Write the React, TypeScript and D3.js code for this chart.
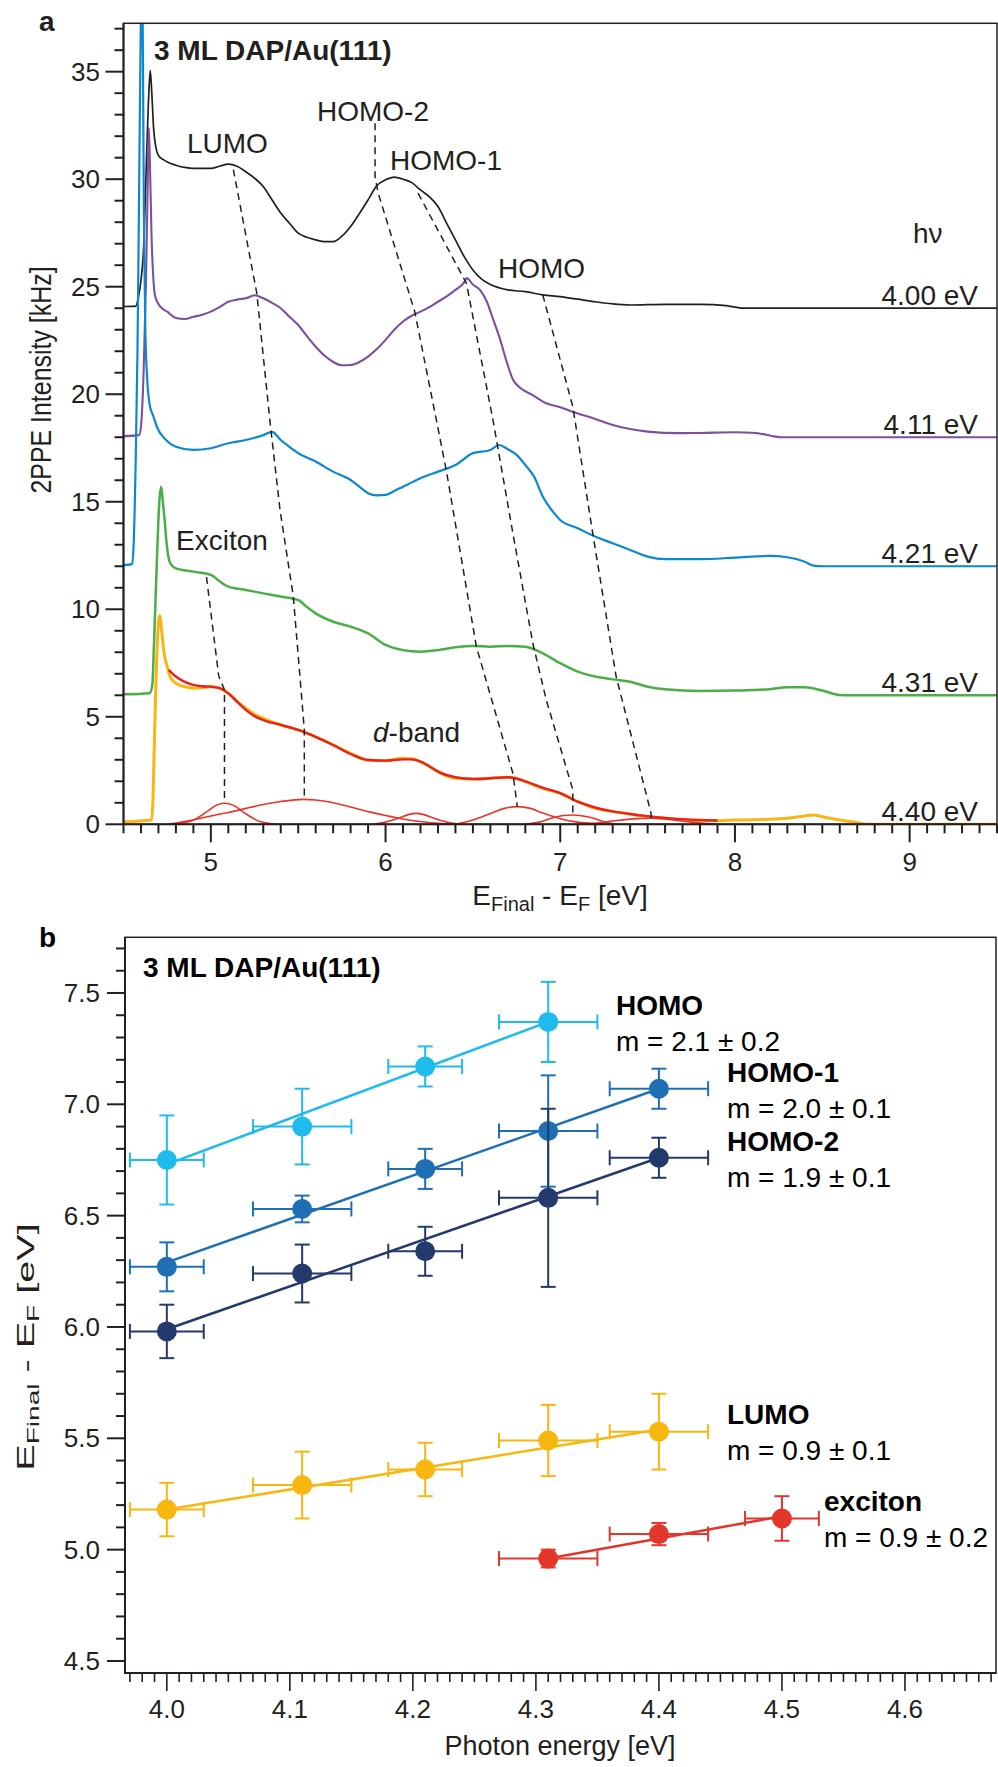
import React from 'react';
import * as d3 from 'd3';

type Pt = [number, number];

const FONT = "'Liberation Sans', Arial, Helvetica, sans-serif";
const INK = '#231f20';

// ---------- panel a : 2PPE spectra, [E_Final - E_F (eV), intensity (kHz) incl. offset] ----------
const spectrum400: Pt[] = [
  [4.5, 24.08], [4.57, 24.1], [4.585, 24.5], [4.6, 25.3], [4.615, 26.8], [4.63, 30.5], [4.645, 34.0],
  [4.653, 35.05], [4.662, 34.0], [4.672, 32.4], [4.685, 31.5], [4.7, 31.1], [4.73, 30.9], [4.8, 30.65],
  [4.85, 30.55], [4.9, 30.5], [4.95, 30.5], [5.0, 30.5], [5.05, 30.6], [5.1, 30.7], [5.15, 30.6],
  [5.2, 30.35], [5.25, 30.05], [5.3, 29.66], [5.35, 29.04], [5.4, 28.43], [5.45, 27.95], [5.5, 27.49],
  [5.55, 27.3], [5.6, 27.18], [5.65, 27.1], [5.7, 27.1], [5.75, 27.35], [5.8, 27.8], [5.85, 28.4],
  [5.9, 29.04], [5.95, 29.7], [6.0, 29.97], [6.05, 30.1], [6.1, 30.0], [6.15, 29.84], [6.2, 29.5],
  [6.25, 29.19], [6.3, 28.73], [6.35, 27.95], [6.4, 27.18], [6.45, 26.4], [6.5, 25.78], [6.55, 25.35],
  [6.6, 25.1], [6.7, 24.85], [6.8, 24.77], [6.9, 24.62], [7.0, 24.54], [7.1, 24.42], [7.2, 24.3],
  [7.3, 24.2], [7.4, 24.15], [7.6, 24.18], [7.8, 24.18], [7.95, 24.12], [8.05, 24.0], [9.5, 24.0],
];
const spectrum411: Pt[] = [
  [4.5, 18.05], [4.59, 18.1], [4.6, 18.5], [4.615, 21], [4.628, 25], [4.638, 29.5], [4.645, 32.4],
  [4.652, 30.5], [4.66, 27.5], [4.67, 25.5], [4.68, 24.6], [4.7, 24.2], [4.72, 24.0], [4.75, 23.84],
  [4.8, 23.55], [4.85, 23.5], [4.9, 23.6], [4.95, 23.7], [5.0, 23.84], [5.05, 24.05], [5.1, 24.3],
  [5.15, 24.4], [5.2, 24.46], [5.25, 24.6], [5.3, 24.46], [5.35, 24.25], [5.4, 24.0], [5.45, 23.6],
  [5.5, 23.22], [5.55, 22.7], [5.6, 22.21], [5.65, 21.8], [5.7, 21.5], [5.75, 21.35], [5.8, 21.36],
  [5.85, 21.5], [5.9, 21.75], [5.95, 22.1], [6.0, 22.53], [6.05, 23.0], [6.1, 23.38], [6.15, 23.65],
  [6.2, 23.84], [6.25, 24.05], [6.3, 24.3], [6.35, 24.55], [6.4, 24.85], [6.45, 25.2], [6.465, 25.4],
  [6.5, 25.1], [6.54, 24.85], [6.58, 24.3], [6.615, 23.5], [6.65, 22.7], [6.69, 21.6], [6.73, 20.67],
  [6.77, 20.3], [6.84, 19.97], [6.92, 19.58], [7.0, 19.4], [7.07, 19.19], [7.2, 18.85], [7.3, 18.57],
  [7.4, 18.38], [7.5, 18.26], [7.68, 18.19], [7.8, 18.2], [8.0, 18.23], [8.12, 18.2], [8.21, 18.06],
  [8.27, 18.0], [9.5, 18.0],
];
const spectrum421: Pt[] = [
  [4.5, 12.05], [4.55, 12.1], [4.558, 13], [4.57, 17], [4.58, 22], [4.59, 30], [4.6, 38], [4.606, 40],
  [4.611, 36], [4.617, 28], [4.625, 23], [4.635, 20.8], [4.65, 19.5], [4.67, 19.0], [4.69, 18.5],
  [4.74, 17.9], [4.8, 17.56], [4.9, 17.41], [5.0, 17.49], [5.1, 17.72], [5.2, 17.87], [5.3, 18.1],
  [5.35, 18.25], [5.4, 17.87], [5.45, 17.55], [5.5, 17.26], [5.6, 16.87], [5.7, 16.4], [5.8, 16.01],
  [5.85, 15.7], [5.9, 15.4], [5.95, 15.3], [6.0, 15.32], [6.05, 15.5], [6.1, 15.7], [6.2, 16.09],
  [6.3, 16.4], [6.4, 16.71], [6.5, 17.26], [6.6, 17.41], [6.65, 17.64], [6.7, 17.44], [6.75, 17.18],
  [6.8, 16.71], [6.85, 16.17], [6.9, 15.24], [6.95, 14.62], [7.0, 14.15], [7.1, 13.77], [7.2, 13.38],
  [7.3, 13.07], [7.4, 12.76], [7.5, 12.45], [7.6, 12.33], [7.8, 12.33], [8.0, 12.4], [8.2, 12.48],
  [8.3, 12.42], [8.4, 12.21], [8.45, 12.03], [8.5, 12.0], [9.5, 12.0],
];
const spectrum431: Pt[] = [
  [4.5, 6.05], [4.65, 6.1], [4.665, 6.5], [4.675, 8.5], [4.69, 12], [4.705, 15.0], [4.716, 15.7],
  [4.725, 15.0], [4.735, 14.2], [4.745, 13.2], [4.767, 12.15], [4.8, 11.9], [4.9, 11.75], [5.0, 11.6],
  [5.05, 11.3], [5.1, 11.05], [5.2, 10.9], [5.3, 10.74], [5.4, 10.59], [5.5, 10.43], [5.55, 10.1],
  [5.6, 9.81], [5.7, 9.42], [5.8, 9.19], [5.9, 8.88], [6.0, 8.34], [6.1, 8.1], [6.2, 8.03], [6.3, 8.1],
  [6.4, 8.23], [6.5, 8.29], [6.6, 8.26], [6.7, 8.29], [6.8, 8.26], [6.9, 7.95], [7.0, 7.49], [7.1, 7.1],
  [7.2, 6.87], [7.3, 6.74], [7.4, 6.63], [7.5, 6.4], [7.6, 6.28], [7.8, 6.2], [8.0, 6.22], [8.2, 6.28],
  [8.3, 6.37], [8.4, 6.37], [8.5, 6.22], [8.6, 6.01], [8.65, 6.0], [9.5, 6.0],
];
const spectrum440: Pt[] = [
  [4.5, 0.12], [4.66, 0.2], [4.668, 1.0], [4.675, 3.2], [4.683, 5.78], [4.696, 8.88], [4.707, 9.7],
  [4.72, 8.88], [4.73, 8.1], [4.75, 7.33], [4.767, 6.87], [4.8, 6.56], [4.85, 6.4], [4.9, 6.33],
  [4.95, 6.35], [5.0, 6.4], [5.05, 6.33], [5.1, 6.09], [5.15, 5.72], [5.2, 5.4], [5.25, 5.12],
  [5.3, 4.93], [5.4, 4.62], [5.5, 4.39], [5.6, 4.07], [5.7, 3.69], [5.8, 3.3], [5.9, 2.99], [6.0, 2.96],
  [6.1, 3.07], [6.15, 3.05], [6.2, 2.92], [6.25, 2.7], [6.3, 2.45], [6.4, 2.14], [6.5, 2.11], [6.6, 2.14],
  [6.7, 2.19], [6.75, 2.14], [6.8, 1.98], [6.9, 1.67], [7.0, 1.44], [7.1, 1.05], [7.2, 0.74], [7.3, 0.59],
  [7.4, 0.48], [7.5, 0.35], [7.6, 0.28], [7.7, 0.2], [7.8, 0.17], [7.9, 0.17], [8.0, 0.2], [8.2, 0.23],
  [8.3, 0.28], [8.4, 0.39], [8.45, 0.43], [8.5, 0.35], [8.6, 0.2], [8.7, 0.08], [8.75, 0.0], [9.5, 0.0],
];
const stub440: Pt[] = [[4.5, 0.12], [4.515, 0.12]];

// fit of the 4.40 eV spectrum and its components
const fitSum: Pt[] = [
  [4.758, 7.18], [4.8, 6.87], [4.85, 6.62], [4.9, 6.48], [4.95, 6.42], [5.0, 6.4], [5.05, 6.33],
  [5.1, 6.09], [5.15, 5.7], [5.2, 5.32], [5.25, 5.03], [5.3, 4.85], [5.4, 4.62], [5.5, 4.39], [5.6, 4.07],
  [5.7, 3.69], [5.8, 3.27], [5.9, 2.99], [6.0, 2.96], [6.1, 3.02], [6.15, 3.02], [6.2, 2.92], [6.25, 2.7],
  [6.3, 2.45], [6.4, 2.19], [6.5, 2.11], [6.6, 2.14], [6.7, 2.19], [6.8, 2.0], [6.9, 1.7], [7.0, 1.45],
  [7.1, 1.05], [7.2, 0.78], [7.3, 0.6], [7.4, 0.48], [7.5, 0.38], [7.6, 0.3], [7.7, 0.24], [7.8, 0.2],
  [7.9, 0.18],
];
const compExciton: Pt[] = [
  [4.76, 0.0], [4.88, 0.13], [4.98, 0.6], [5.03, 0.88], [5.078, 0.98], [5.13, 0.88], [5.18, 0.6],
  [5.28, 0.13], [5.38, 0.0],
];
const compLumo: Pt[] = [
  [4.76, 0.0], [4.8, 0.06], [4.9, 0.21], [5.0, 0.39], [5.1, 0.55], [5.2, 0.74], [5.3, 0.92], [5.4, 1.06],
  [5.53, 1.16], [5.6, 1.13], [5.7, 1.0], [5.8, 0.8], [5.9, 0.59], [6.0, 0.41], [6.1, 0.25], [6.2, 0.13],
  [6.3, 0.05], [6.4, 0.0],
];
const compDband: Pt[] = [
  [5.93, 0.0], [6.0, 0.1], [6.08, 0.3], [6.13, 0.45], [6.177, 0.51], [6.22, 0.45], [6.27, 0.3],
  [6.35, 0.1], [6.42, 0.0],
];
const compHomo2: Pt[] = [
  [6.4, 0.0], [6.5, 0.2], [6.6, 0.5], [6.68, 0.74], [6.754, 0.82], [6.83, 0.74], [6.9, 0.52], [7.0, 0.26],
  [7.1, 0.1], [7.2, 0.03], [7.3, 0.0],
];
const compHomo1: Pt[] = [
  [6.79, 0.0], [6.88, 0.1], [6.96, 0.3], [7.02, 0.41], [7.072, 0.43], [7.12, 0.4], [7.18, 0.3],
  [7.25, 0.12], [7.32, 0.0],
];
const compHomo: Pt[] = [
  [7.1, 0.0], [7.2, 0.05], [7.3, 0.15], [7.4, 0.24], [7.52, 0.28], [7.6, 0.25], [7.7, 0.15], [7.8, 0.06],
  [7.9, 0.0],
];

// peak-tracking guide lines
const guideExciton: Pt[] = [[4.975, 11.5], [5.045, 6.9], [5.078, 6.25], [5.078, 0.98]];
const guideLumo: Pt[] = [
  [5.129, 30.45], [5.263, 24.7], [5.339, 18.7], [5.396, 14.62], [5.472, 10.59], [5.51, 6.87],
  [5.535, 4.39], [5.535, 1.16],
];
const guideHomo2: Pt[] = [
  [5.94, 32.6], [5.94, 30.1], [5.958, 29.35], [6.167, 23.84], [6.291, 18.8], [6.349, 16.4], [6.52, 8.26],
  [6.729, 2.37], [6.754, 0.82],
];
const guideHomo1: Pt[] = [
  [6.186, 29.35], [6.463, 25.16], [6.615, 18.8], [6.729, 13.53], [6.843, 8.42], [6.92, 5.78],
  [7.072, 1.6], [7.072, 0.43],
];
const guideHomo: Pt[] = [[6.9, 24.62], [7.072, 19.42], [7.186, 13.53], [7.32, 6.87], [7.52, 0.51], [7.52, 0.28]];

const photonLabels = ['4.00 eV', '4.11 eV', '4.21 eV', '4.31 eV', '4.40 eV'];
const spectrumOffsets = [24, 18, 12, 6, 0];

// ---------- panel b : peak energy vs photon energy ----------
const homoHv = [4.0, 4.11, 4.21, 4.31];
const homoE = [6.75, 6.9, 7.17, 7.37];
const homoErrE = [0.2, 0.17, 0.09, 0.18];
const homoErrHv = [0.03, 0.04, 0.03, 0.04];
const homoFit: Pt[] = [[4.0, 6.73], [4.31, 7.37]];

const homo1Hv = [4.0, 4.11, 4.21, 4.31, 4.4];
const homo1E = [6.27, 6.53, 6.71, 6.88, 7.07];
const homo1ErrE = [0.11, 0.06, 0.09, 0.25, 0.09];
const homo1ErrHv = [0.03, 0.04, 0.03, 0.04, 0.04];
const homo1Fit: Pt[] = [[4.0, 6.29], [4.4, 7.07]];

const homo2Hv = [4.0, 4.11, 4.21, 4.31, 4.4];
const homo2E = [5.98, 6.24, 6.34, 6.58, 6.76];
const homo2ErrE = [0.12, 0.13, 0.11, 0.4, 0.09];
const homo2ErrHv = [0.03, 0.04, 0.03, 0.04, 0.04];
const homo2Fit: Pt[] = [[4.0, 5.99], [4.4, 6.76]];

const lumoHv = [4.0, 4.11, 4.21, 4.31, 4.4];
const lumoE = [5.18, 5.29, 5.36, 5.49, 5.53];
const lumoErrE = [0.12, 0.15, 0.12, 0.16, 0.17];
const lumoErrHv = [0.03, 0.04, 0.03, 0.04, 0.04];
const lumoFit: Pt[] = [[4.0, 5.18], [4.4, 5.54]];

const excitonHv = [4.31, 4.4, 4.5];
const excitonE = [4.96, 5.07, 5.14];
const excitonErrE = [0.04, 0.05, 0.1];
const excitonErrHv = [0.04, 0.04, 0.03];
const excitonFit: Pt[] = [[4.31, 4.96], [4.5, 5.15]];

const slopeLabels = ['m = 2.1 ± 0.2', 'm = 2.0 ± 0.1', 'm = 1.9 ± 0.1', 'm = 0.9 ± 0.1', 'm = 0.9 ± 0.2'];

// scales
const xA = d3.scaleLinear().domain([4.5, 9.5]).range([123.5, 997]);
const yA = d3.scaleLinear().domain([0, 37.25]).range([824.3, 23.3]);
const xB = d3.scaleLinear().domain([3.966, 4.674]).range([125, 996]);
const yB = d3.scaleLinear().domain([4.446, 7.75]).range([1673, 937.3]);

const smoothA = d3.line<Pt>().x(d => xA(d[0])).y(d => yA(d[1])).curve(d3.curveMonotoneX);
const straightA = d3.line<Pt>().x(d => xA(d[0])).y(d => yA(d[1]));
const straightB = d3.line<Pt>().x(d => xB(d[0])).y(d => yB(d[1]));

const spectra = [
  { data: spectrum400, color: '#231f20', width: 1.7 },
  { data: spectrum411, color: '#7d4f9e', width: 2.1 },
  { data: spectrum421, color: '#0b88cf', width: 2.2 },
  { data: spectrum431, color: '#4cae49', width: 2.5 },
  { data: spectrum440, color: '#fab512', width: 3 },
];
const components = [compExciton, compLumo, compDband, compHomo2, compHomo1, compHomo];
const guides = [guideExciton, guideLumo, guideHomo2, guideHomo1, guideHomo];

const seriesB = [
  { name: 'HOMO', color: '#1fbbec', hv: homoHv, e: homoE, eErr: homoErrE, hvErr: homoErrHv, fit: homoFit, lx: 616, ly: 1015 },
  { name: 'HOMO-1', color: '#1e6fb4', hv: homo1Hv, e: homo1E, eErr: homo1ErrE, hvErr: homo1ErrHv, fit: homo1Fit, lx: 727, ly: 1082 },
  { name: 'HOMO-2', color: '#24396c', hv: homo2Hv, e: homo2E, eErr: homo2ErrE, hvErr: homo2ErrHv, fit: homo2Fit, lx: 727, ly: 1151 },
  { name: 'LUMO', color: '#f8b70f', hv: lumoHv, e: lumoE, eErr: lumoErrE, hvErr: lumoErrHv, fit: lumoFit, lx: 727, ly: 1424 },
  { name: 'exciton', color: '#e3352b', hv: excitonHv, e: excitonE, eErr: excitonErrE, hvErr: excitonErrHv, fit: excitonFit, lx: 824, ly: 1511 },
];

const txt = { fontFamily: FONT, fill: INK } as const;

function Frame({ x, y }: { x: d3.ScaleLinear<number, number>; y: d3.ScaleLinear<number, number> }) {
  const [x0, x1] = x.range();
  const [y0, y1] = y.range();
  return (
    <g>
      <rect x={x0} y={y1} width={x1 - x0} height={y0 - y1} fill="none" stroke={INK} strokeWidth={1.5} />
      <line x1={x0} x2={x0} y1={y1} y2={y0} stroke={INK} strokeWidth={2} />
      <line x1={x0 - 1} x2={x1} y1={y0} y2={y0} stroke={INK} strokeWidth={2} />
    </g>
  );
}

export default function App() {
  const [ax0, ax1] = xA.range();
  const [ay0, ay1] = yA.range();
  const bx0 = xB.range()[0];
  const by0 = yB.range()[0];

  const xTicksA = d3.range(45, 96).map(v => v / 10);
  const yTicksA = d3.range(0, 38);
  const xTicksB = d3.range(397, 468).map(v => v / 100);
  const yTicksB = d3.range(45, 78).map(v => v / 10);

  return (
    <svg width={998} height={1767} style={{ position: 'absolute', left: 0, top: 0, background: '#fff' }}>
      <defs>
        <clipPath id="clipA">
          <rect x={ax0} y={ay1} width={ax1 - ax0} height={ay0 - ay1} />
        </clipPath>
      </defs>

      {/* ================= panel a ================= */}
      <g clipPath="url(#clipA)">
        <path d={straightA(stub440) || ''} fill="none" stroke="#2d5fe0" strokeWidth={2.5} />
        {spectra.map((s, i) => (
          <path key={i} d={smoothA(s.data) || ''} fill="none" stroke={s.color} strokeWidth={s.width} strokeLinejoin="round" />
        ))}
        {components.map((c, i) => (
          <path key={i} d={smoothA(c) || ''} fill="none" stroke="#e8342a" strokeWidth={1.6} />
        ))}
        <path d={smoothA(fitSum) || ''} fill="none" stroke="#e8221c" strokeWidth={2.4} />
        {guides.map((g, i) => (
          <path key={i} d={straightA(g) || ''} fill="none" stroke={INK} strokeWidth={1.5} strokeDasharray="7 5" />
        ))}
      </g>
      <Frame x={xA} y={yA} />
      {xTicksA.map(v => {
        const major = Math.abs(v - Math.round(v)) < 1e-6;
        return <line key={v} x1={xA(v)} x2={xA(v)} y1={ay0} y2={ay0 + (major ? 18 : 9)} stroke={INK} strokeWidth={2} />;
      })}
      {[5, 6, 7, 8, 9].map(v => (
        <text key={v} x={xA(v)} y={871} textAnchor="middle" fontSize={26} {...txt}>{v}</text>
      ))}
      {yTicksA.map(v => {
        const major = v % 5 === 0;
        return <line key={v} x1={ax0 - (major ? 18 : 9)} x2={ax0} y1={yA(v)} y2={yA(v)} stroke={INK} strokeWidth={2} />;
      })}
      {d3.range(0, 36, 5).map(v => (
        <text key={v} x={100} y={yA(v)} dy="0.35em" textAnchor="end" fontSize={26} {...txt}>{v}</text>
      ))}
      <text x={560} y={905} textAnchor="middle" fontSize={28} {...txt}>
        E<tspan fontSize={20} dy={6}>Final</tspan><tspan dy={-6}>{'\u00a0-\u00a0E'}</tspan>
        <tspan fontSize={20} dy={6}>F</tspan><tspan dy={-6}>{'\u00a0[eV]'}</tspan>
      </text>
      <text transform="translate(51,380) rotate(-90) scale(0.86,1)" textAnchor="middle" fontSize={29} {...txt}>
        2PPE Intensity [kHz]
      </text>

      <text x={39} y={31} fontSize={28} fontWeight="bold" {...txt}>a</text>
      <text x={154} y={60} fontSize={28} fontWeight="bold" {...txt}>3 ML DAP/Au(111)</text>
      <text x={187} y={153} fontSize={28} {...txt}>LUMO</text>
      <text x={317} y={121} fontSize={28} {...txt}>HOMO-2</text>
      <text x={390} y={170} fontSize={28} {...txt}>HOMO-1</text>
      <text x={498} y={278} fontSize={28} {...txt}>HOMO</text>
      <text x={913} y={243} fontSize={28} {...txt}>hν</text>
      <text x={176} y={550} fontSize={28} {...txt}>Exciton</text>
      <text x={373} y={742} fontSize={28} {...txt}><tspan fontStyle="italic">d</tspan>-band</text>
      {photonLabels.map((l, i) => (
        <text key={l} x={978} y={yA(spectrumOffsets[i]) - 3} textAnchor="end" fontSize={28} {...txt}>{l}</text>
      ))}

      {/* ================= panel b ================= */}
      {seriesB.map(s => (
        <g key={s.name}>
          <path d={straightB(s.fit) || ''} fill="none" stroke={s.color} strokeWidth={2.5} />
          {s.hv.map((h, i) => {
            const cx = xB(h);
            const cy = yB(s.e[i]);
            const yt = yB(s.e[i] + s.eErr[i]);
            const yb = yB(s.e[i] - s.eErr[i]);
            const xl = xB(h - s.hvErr[i]);
            const xr = xB(h + s.hvErr[i]);
            return (
              <g key={i} stroke={s.color} strokeWidth={2}>
                <line x1={cx} x2={cx} y1={yt} y2={yb} />
                <line x1={cx - 7.5} x2={cx + 7.5} y1={yt} y2={yt} />
                <line x1={cx - 7.5} x2={cx + 7.5} y1={yb} y2={yb} />
                <line x1={xl} x2={xr} y1={cy} y2={cy} />
                <line x1={xl} x2={xl} y1={cy - 7.5} y2={cy + 7.5} />
                <line x1={xr} x2={xr} y1={cy - 7.5} y2={cy + 7.5} />
              </g>
            );
          })}
          {s.hv.map((h, i) => (
            <circle key={'c' + i} cx={xB(h)} cy={yB(s.e[i])} r={10} fill={s.color} />
          ))}
        </g>
      ))}
      {seriesB.map((s, i) => (
        <g key={'lab' + s.name}>
          <text x={s.lx} y={s.ly} fontSize={28} fontWeight="bold" fontFamily={FONT} fill="#000">{s.name}</text>
          <text x={s.lx} y={s.ly + 36} fontSize={28} fontFamily={FONT} fill="#000">{slopeLabels[i]}</text>
        </g>
      ))}
      <Frame x={xB} y={yB} />
      {xTicksB.map(v => {
        const major = Math.round(v * 100) % 10 === 0;
        return <line key={v} x1={xB(v)} x2={xB(v)} y1={by0} y2={by0 + (major ? 18 : 9)} stroke={INK} strokeWidth={1.6} />;
      })}
      {d3.range(40, 47).map(v => (
        <text key={v} x={xB(v / 10)} y={1718} textAnchor="middle" fontSize={26} {...txt}>{(v / 10).toFixed(1)}</text>
      ))}
      {yTicksB.map(v => {
        const major = Math.round(v * 10) % 5 === 0;
        return <line key={v} x1={bx0 - (major ? 18 : 9)} x2={bx0} y1={yB(v)} y2={yB(v)} stroke={INK} strokeWidth={2} />;
      })}
      {d3.range(45, 76, 5).map(v => (
        <text key={v} x={100} y={yB(v / 10)} dy="0.35em" textAnchor="end" fontSize={26} {...txt}>{(v / 10).toFixed(1)}</text>
      ))}
      <text x={560} y={1755} textAnchor="middle" fontSize={27} {...txt}>Photon energy [eV]</text>
      <text transform="translate(34,1347) rotate(-90) scale(1.65,1)" textAnchor="middle" fontSize={24} {...txt}>
        E<tspan fontSize={17} dy={5}>Final</tspan><tspan dy={-5}>{'\u00a0-\u00a0E'}</tspan>
        <tspan fontSize={17} dy={5}>F</tspan><tspan dy={-5}>{'\u00a0[eV]'}</tspan>
      </text>

      <text x={39} y={947} fontSize={28} fontWeight="bold" fontFamily={FONT} fill="#000">b</text>
      <text x={143} y={977} fontSize={28} fontWeight="bold" fontFamily={FONT} fill="#000">3 ML DAP/Au(111)</text>
    </svg>
  );
}
